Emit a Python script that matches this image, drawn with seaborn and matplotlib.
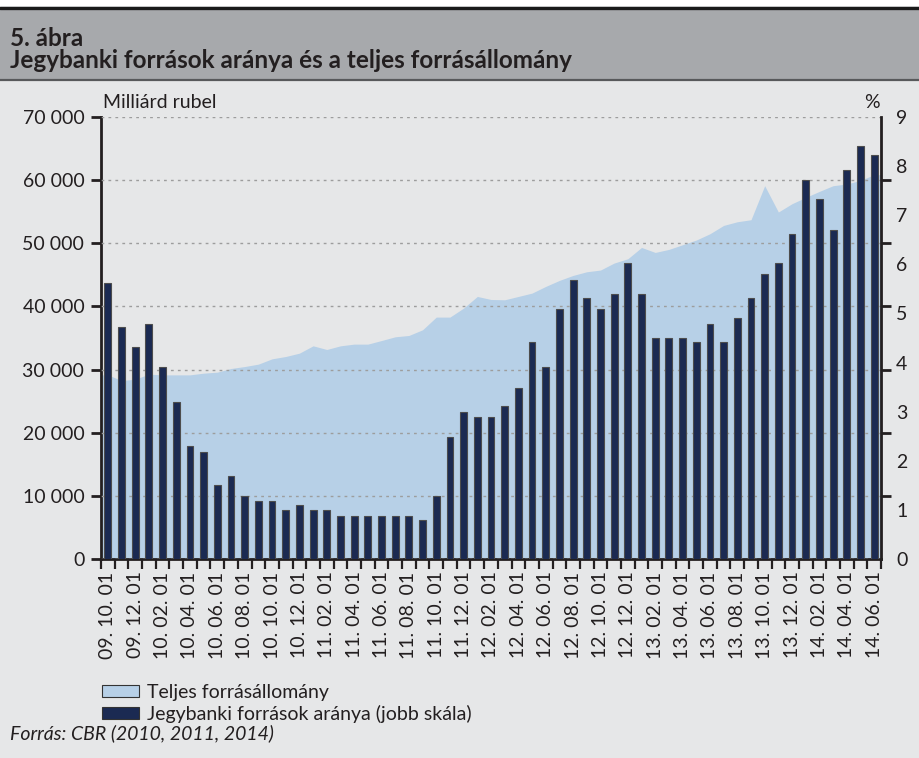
import numpy as np
import pandas as pd
import seaborn as sns
import matplotlib.pyplot as plt
from matplotlib.patches import Rectangle, Patch
from matplotlib.lines import Line2D
from matplotlib.ticker import FixedLocator, FuncFormatter


# Monthly data, 2009.10 - 2014.06
months = pd.date_range('2009-10-01', periods=57, freq='MS').strftime('%y. %m. %d').tolist()

# Jegybanki források aránya (%, right scale)
bank_share = [5.62, 4.72, 4.31, 4.79, 3.91, 3.19, 2.30, 2.18, 1.51, 1.70,
              1.28, 1.18, 1.18, 0.99, 1.10, 0.99, 0.99, 0.88, 0.88, 0.88,
              0.88, 0.88, 0.88, 0.80, 1.28, 2.48, 3.00, 2.89, 2.89, 3.12,
              3.49, 4.41, 3.91, 5.09, 5.69, 5.31, 5.09, 5.39, 6.02, 5.39,
              4.50, 4.50, 4.50, 4.41, 4.79, 4.41, 4.90, 5.31, 5.81, 6.02,
              6.62, 7.71, 7.33, 6.70, 7.93, 8.40, 8.22]

# Teljes forrásállomány (milliárd rubel, left scale)
total_liab = [29160, 28260, 28480, 29270, 29160, 29160, 29160, 29430, 29590, 30170,
              30480, 30860, 31700, 32070, 32600, 33760, 33180, 33760, 34030, 34030,
              34600, 35190, 35400, 36300, 38310, 38310, 39740, 41580, 41100, 41050,
              41580, 42110, 43170, 44120, 44910, 45490, 45760, 46870, 47550, 49340,
              48550, 49030, 49770, 50510, 51510, 52830, 53410, 53730, 59120, 54950,
              56270, 57270, 58220, 59120, 59390, 59960, 60860]

left_ticks = [0, 10000, 20000, 30000, 40000, 50000, 60000, 70000]
right_ticks = [0, 1, 2, 3, 4, 5, 6, 7, 8, 9]

bg = '#E6E7E8'
area_color = '#B7D0E7'
bar_color = '#1B2A52'
txt = '#231F20'
fs = 14

sns.set_theme(style='ticks')
plt.rcParams['font.family'] = ['Lato', 'DejaVu Sans']
plt.rcParams['text.color'] = txt

W, H = 919, 758
fig = plt.figure(figsize=(W / 100, H / 100), dpi=100, facecolor=bg)

# header band
fig.add_artist(Rectangle((0, 1 - 80 / H), 1, 72 / H, transform=fig.transFigure,
                         facecolor='#A7A9AC', edgecolor='none'))
fig.add_artist(Rectangle((0, 1 - 6 / H), 1, 6 / H, transform=fig.transFigure,
                         facecolor='white', edgecolor='none'))
fig.add_artist(Line2D([0, 1], [1 - 7.5 / H, 1 - 7.5 / H], transform=fig.transFigure,
                      color='#1a1a1a', lw=2.4))
fig.add_artist(Line2D([0, 1], [1 - 79.5 / H, 1 - 79.5 / H], transform=fig.transFigure,
                      color='#58595B', lw=1.6))
fig.text(10 / W, 1 - 38 / H, '5. ábra', fontsize=17.5, fontweight='bold', va='center', color=txt)
fig.text(10 / W, 1 - 61 / H, 'Jegybanki források aránya és a teljes forrásállomány',
         fontsize=17.5, fontweight='bold', va='center', color=txt)

ax = fig.add_axes([101 / W, 1 - 559 / H, 780 / W, 442 / H])
ax.set_facecolor(bg)
ax2 = ax.twinx()

x = np.arange(len(months))
# area reaches from axis to axis
x_ext = np.r_[x[0] - 0.5, x, x[-1] + 0.5]
y_ext = np.r_[total_liab[0], total_liab, total_liab[-1]]
ax.fill_between(x_ext, y_ext, color=area_color, lw=0, zorder=1)

sns.barplot(x=months, y=bank_share, color=bar_color, saturation=1, width=0.5,
            edgecolor='#4d4d4d', linewidth=0.8, ax=ax2)

ax.set_xlim(-0.5, len(months) - 0.5)
ax.set_ylim(0, 70000)
ax2.set_ylim(0, 9)

# x axis: tick marks between months, labels every second month
ax.xaxis.set_major_locator(FixedLocator(np.arange(-0.5, len(months), 1)))
ax.xaxis.set_major_formatter(FuncFormatter(lambda v, p: ''))
ax.xaxis.set_minor_locator(FixedLocator(x[::2]))
ax.set_xticklabels(months[::2], minor=True, rotation=90, fontsize=fs, color=txt)
ax.tick_params(axis='x', which='major', length=7, width=1.6, color=txt, direction='out')
ax.tick_params(axis='x', which='minor', length=0, pad=9)

# left axis
ax.set_yticks(left_ticks)
ax.set_yticklabels([f'{v:,}'.replace(',', ' ') for v in left_ticks], fontsize=fs, color=txt)
ax.tick_params(axis='y', length=7, width=2, color=txt, pad=5)
ax.yaxis.grid(True, linestyle=(0, (2, 3)), color='#9d9d9d', lw=1)
ax.set_axisbelow(False)
ax.set_xlabel('')
ax.set_ylabel('')

# right axis: labels 0..9, marks at left gridlines
ax2.set_yticks(right_ticks)
ax2.set_yticklabels([str(v) for v in right_ticks], fontsize=fs, color=txt)
ax2.tick_params(axis='y', which='major', length=0, pad=11)
ax2.yaxis.set_minor_locator(FixedLocator(np.array(left_ticks) / 70000 * 9))
ax2.tick_params(axis='y', which='minor', length=7, width=2, color=txt)
ax2.set_xlabel('')
ax2.set_ylabel('')

for name, sp in ax.spines.items():
    sp.set_visible(name in ('left', 'bottom'))
    sp.set_color(txt)
    sp.set_linewidth(2)
for name, sp in ax2.spines.items():
    sp.set_visible(name == 'right')
    sp.set_color(txt)
    sp.set_linewidth(2)

fig.text(103 / W, 1 - 103 / H, 'Milliárd rubel', fontsize=fs, va='center', ha='left', color=txt)
fig.text(880 / W, 1 - 103 / H, '%', fontsize=fs, va='center', ha='right', color=txt)

handles = [Patch(facecolor=area_color, edgecolor='#333333', lw=0.8),
           Patch(facecolor=bar_color, edgecolor='#333333', lw=0.8)]
fig.legend(handles, ['Teljes forrásállomány', 'Jegybanki források aránya (jobb skála)'],
           loc='upper left', bbox_to_anchor=(94 / W, 1 - 676 / H), frameon=False,
           fontsize=fs, handlelength=1.9, handleheight=0.55, handletextpad=0.45,
           labelspacing=0.2, borderaxespad=0)

fig.text(10 / W, 1 - 733 / H, 'Forrás: CBR (2010, 2011, 2014)', fontsize=fs,
         style='italic', va='center', color=txt)

fig.savefig('out.png', dpi=100, facecolor=bg)
